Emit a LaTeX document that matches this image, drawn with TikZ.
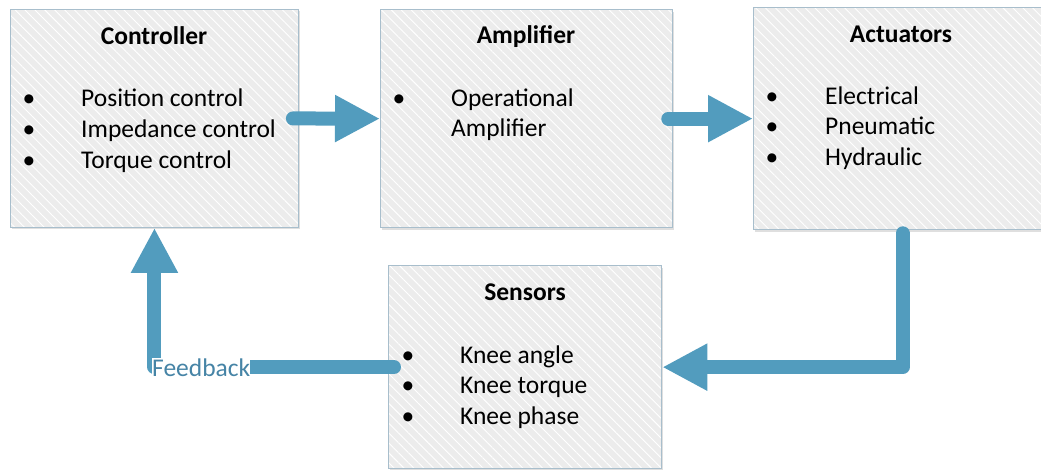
\documentclass[tikz,border=0pt]{standalone}
\usepackage{fontspec}
\setmainfont{Carlito}
\usetikzlibrary{arrows.meta,patterns.meta,shadows}
\definecolor{arrowblue}{RGB}{82,156,190}
\definecolor{fbtext}{RGB}{70,132,166}
\definecolor{boxborder}{RGB}{168,190,204}
\definecolor{boxfill}{RGB}{236,236,236}
\begin{document}
\begin{tikzpicture}[x=1pt,y=-1pt,
  blockbox/.style={draw=boxborder, line width=1.3pt, inner sep=0pt, anchor=north west,
    drop shadow={shadow xshift=1.5pt, shadow yshift=-2pt, opacity=0.18, fill=black!70},
    preaction={fill=boxfill},
    pattern={Lines[angle=-45,distance=7pt,line width=0.9pt]}, pattern color=white},
  title/.style={font=\fontsize{25.5}{30}\selectfont\bfseries, anchor=base, inner sep=0pt},
  item/.style={font=\fontsize{25.5}{30}\selectfont, anchor=base west, inner sep=0pt},
  bul/.style={font=\fontsize{25.5}{30}\selectfont, anchor=base, inner sep=0pt},
  flow/.style={draw=arrowblue, line width=14pt, line cap=round, line join=round,
    -{Triangle[width=44pt,length=45pt]}, arrowblue}
]
\useasboundingbox (0,0) rectangle (1041,470);

% boxes
\node[blockbox, minimum width=288pt, minimum height=218pt] (ctrl) at (10,9) {};
\node[blockbox, minimum width=292pt, minimum height=218pt] (amp) at (380,9) {};
\node[blockbox, minimum width=292pt, minimum height=222pt] (act) at (753,7) {};
\node[blockbox, minimum width=273pt, minimum height=203pt] (sen) at (388,265) {};

% Controller
\node[title] (ctrlt) at (154,45) {Controller};
\node[bul] (cb1) at (29,107) {•};
\node[bul] (cb2) at (29,138) {•};
\node[bul] (cb3) at (29,169) {•};
\node[item] (ci1) at (81,107) {Position control};
\node[item] (ci2) at (81,138) {Impedance control};
\node[item] (ci3) at (81,169) {Torque control};

% Amplifier
\node[title] (ampt) at (526,44) {Amplifier};
\node[bul] (ab1) at (399,107) {•};
\node[item] (ai1) at (451,107) {Operational};
\node[item] (ai2) at (451,137) {Amplifier};

% Actuators
\node[title] (actt) at (901,43) {Actuators};
\node[bul] (tb1) at (772,105) {•};
\node[bul] (tb2) at (772,135) {•};
\node[bul] (tb3) at (772,166) {•};
\node[item] (ti1) at (825,105) {Electrical};
\node[item] (ti2) at (825,135) {Pneumatic};
\node[item] (ti3) at (825,166) {Hydraulic};

% Sensors
\node[title] (sent) at (525,301) {Sensors};
\node[bul] (sb1) at (408,363) {•};
\node[bul] (sb2) at (408,393) {•};
\node[bul] (sb3) at (408,424) {•};
\node[item] (si1) at (460,363) {Knee angle};
\node[item] (si2) at (460,393) {Knee torque};
\node[item] (si3) at (460,424) {Knee phase};

% connectors
\draw[flow] ([xshift=-6pt]ctrl.east) -- (amp.west);
\draw[flow] ([xshift=-5pt]amp.east) -- (act.west);
\draw[flow] ([xshift=3pt,yshift=-3pt]act.south) |- (sen.east);
\draw[flow] ([xshift=6pt]sen.west) -| (ctrl.south);
\node[font=\fontsize{25.5}{30}\selectfont, text=fbtext, fill=white, inner sep=0pt, anchor=base west] (fb) at (152,376) {Feedback};
\end{tikzpicture}
\end{document}
